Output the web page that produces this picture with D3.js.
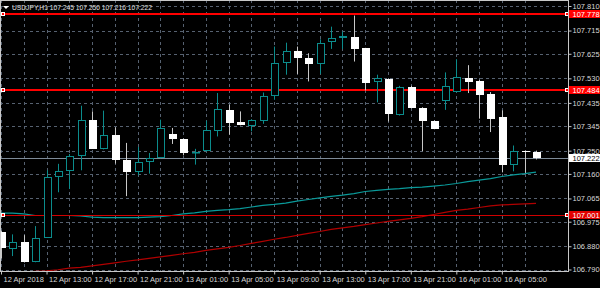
<!DOCTYPE html>
<html>
<head>
<meta charset="utf-8">
<script src="https://cdn.jsdelivr.net/npm/d3@7/dist/d3.min.js"></script>
<style>
body { margin: 0; background: #000; }
svg { display: block; }
text { font-family: "Liberation Sans", Arial, sans-serif; }
</style>
</head>
<body>
<div id="chart-area"></div>
<script>
// USDJPY H1 candles, 12 Apr 09:00 .. 16 Apr 08:00
var times = [
  "12 Apr 09:00","12 Apr 10:00","12 Apr 11:00","12 Apr 12:00","12 Apr 13:00","12 Apr 14:00","12 Apr 15:00","12 Apr 16:00",
  "12 Apr 17:00","12 Apr 18:00","12 Apr 19:00","12 Apr 20:00","12 Apr 21:00","12 Apr 22:00","12 Apr 23:00",
  "13 Apr 00:00","13 Apr 01:00","13 Apr 02:00","13 Apr 03:00","13 Apr 04:00","13 Apr 05:00","13 Apr 06:00","13 Apr 07:00",
  "13 Apr 08:00","13 Apr 09:00","13 Apr 10:00","13 Apr 11:00","13 Apr 12:00","13 Apr 13:00","13 Apr 14:00","13 Apr 15:00",
  "13 Apr 16:00","13 Apr 17:00","13 Apr 18:00","13 Apr 19:00","13 Apr 20:00","13 Apr 21:00","13 Apr 22:00","13 Apr 23:00",
  "16 Apr 00:00","16 Apr 01:00","16 Apr 02:00","16 Apr 03:00","16 Apr 04:00","16 Apr 05:00","16 Apr 06:00","16 Apr 07:00",
  "16 Apr 08:00"
];
var open = [106.934,106.869,106.895,106.820,106.913,107.149,107.172,107.228,107.367,107.257,107.309,107.212,107.168,107.205,107.222,
  107.316,107.296,107.240,107.247,107.326,107.408,107.362,107.347,107.366,107.460,107.589,107.634,107.610,107.585,107.670,107.685,
  107.691,107.647,107.515,107.528,107.387,107.495,107.417,107.366,107.441,107.477,107.533,107.518,107.469,107.380,107.196,107.250,107.245];
var high = [106.940,106.926,106.923,106.958,107.174,107.199,107.237,107.424,107.402,107.405,107.340,107.280,107.264,107.241,107.370,
  107.338,107.297,107.257,107.366,107.473,107.428,107.402,107.372,107.475,107.653,107.668,107.653,107.627,107.681,107.730,107.711,
  107.773,107.648,107.544,107.529,107.501,107.501,107.418,107.367,107.553,107.604,107.581,107.524,107.477,107.406,107.270,107.250,107.250];
var low = [106.833,106.842,106.817,106.818,106.912,107.089,107.102,107.174,107.257,107.255,107.200,107.074,107.155,107.161,107.221,
  107.276,107.232,107.196,107.246,107.305,107.312,107.348,107.325,107.354,107.447,107.544,107.547,107.518,107.547,107.644,107.644,
  107.595,107.483,107.437,107.363,107.386,107.414,107.248,107.333,107.408,107.476,107.473,107.374,107.322,107.166,107.170,107.164,107.216];
var close = [106.872,106.898,106.819,106.913,107.149,107.172,107.230,107.370,107.257,107.309,107.213,107.168,107.207,107.222,107.338,
  107.295,107.240,107.246,107.330,107.411,107.359,107.349,107.370,107.463,107.591,107.634,107.608,107.586,107.666,107.688,107.695,
  107.644,107.512,107.531,107.392,107.495,107.415,107.363,107.334,107.502,107.535,107.515,107.464,107.374,107.193,107.247,107.248,107.222];

// moving averages
var maFast = [107.008,107.008,107.005,106.999,106.999,106.999,106.999,106.997,106.993,106.991,106.991,106.991,106.991,106.993,106.995,
  106.999,107.005,107.009,107.015,107.019,107.022,107.026,107.032,107.038,107.042,107.047,107.055,107.061,107.067,107.073,107.078,
  107.084,107.092,107.096,107.100,107.103,107.107,107.109,107.113,107.117,107.123,107.130,107.136,107.142,107.150,107.156,107.161,107.167];
var maSlow = [106.770,106.775,106.779,106.783,106.785,106.789,106.795,106.798,106.804,106.810,106.816,106.822,106.827,106.833,106.839,
  106.845,106.851,106.856,106.864,106.870,106.876,106.883,106.891,106.899,106.907,106.914,106.922,106.930,106.937,106.945,106.951,
  106.957,106.964,106.970,106.976,106.982,106.988,106.995,107.003,107.011,107.019,107.024,107.030,107.036,107.040,107.042,107.044,107.046];

// horizontal line objects
var hLines = [107.778, 107.484, 107.001];
var hLineWidth = [2, 2, 1];
var bid = 107.222;

var priceTicks = [107.810,107.715,107.625,107.530,107.435,107.345,107.250,107.160,107.065,106.975,106.880,106.790];
var timeTicks = ["12 Apr 09:00","12 Apr 13:00","12 Apr 17:00","12 Apr 21:00","13 Apr 01:00","13 Apr 05:00",
  "13 Apr 09:00","13 Apr 13:00","13 Apr 17:00","13 Apr 21:00","16 Apr 01:00","16 Apr 05:00"];
var timeTickLabels = ["12 Apr 2018","12 Apr 13:00","12 Apr 17:00","12 Apr 21:00","13 Apr 01:00","13 Apr 05:00",
  "13 Apr 09:00","13 Apr 13:00","13 Apr 17:00","13 Apr 21:00","16 Apr 01:00","16 Apr 05:00"];

var W = 600, H = 288;
var plotRight = 568.5, plotBottom = 271.5;
var bull = "#0b8c8c", gridCol = "#566170", red = "#ff0000";

var svg = d3.select("#chart-area").append("svg")
    .attr("width", W).attr("height", H)
    .style("background", "#000");

var x = d3.scaleLinear().domain([0, times.length - 1]).range([1, 536]);
var y = d3.scaleLinear().domain([106.790, 107.810]).range([269.5, 6]);
var cx = i => Math.round(x(i)) + 0.5;

svg.append("clipPath").attr("id", "plot")
  .append("rect").attr("x", 0).attr("y", 0).attr("width", plotRight).attr("height", plotBottom);

var g = svg.append("g").attr("clip-path", "url(#plot)");

// grid
g.selectAll(".hgrid").data(priceTicks).enter().append("line")
    .attr("x1", 0).attr("x2", plotRight)
    .attr("y1", d => Math.round(y(d)) + 0.5).attr("y2", d => Math.round(y(d)) + 0.5)
    .attr("stroke", gridCol).attr("stroke-dasharray", "3,3");
g.selectAll(".vgrid").data(times.filter((t, i) => i % 2 == 0)).enter().append("line")
    .attr("x1", d => cx(times.indexOf(d))).attr("x2", d => cx(times.indexOf(d)))
    .attr("y1", 0).attr("y2", plotBottom)
    .attr("stroke", gridCol).attr("stroke-dasharray", "3,3");

// bid line
g.append("line").attr("x1", 0).attr("x2", plotRight)
    .attr("y1", Math.round(y(bid)) + 0.5).attr("y2", Math.round(y(bid)) + 0.5)
    .attr("stroke", "#7d8a98");

// moving averages
var line = d3.line().x((d, i) => x(i)).y(d => y(d));
g.append("path").datum(maSlow).attr("d", line).attr("fill", "none").attr("stroke", "#b00000").attr("stroke-width", 1.2);
g.append("path").datum(maFast).attr("d", line).attr("fill", "none").attr("stroke", "#0a9a9a").attr("stroke-width", 1.2);

// horizontal lines
hLines.forEach((v, k) => {
  var ly = Math.round(y(v)) + (hLineWidth[k] == 1 ? 0.5 : 0);
  g.append("line").attr("x1", 0).attr("x2", plotRight).attr("y1", ly).attr("y2", ly)
      .attr("stroke", k == 2 ? "#d00000" : red).attr("stroke-width", hLineWidth[k]);
  [1, 565].forEach(px => {
    g.append("rect").attr("x", px).attr("y", Math.round(y(v)) - 2).attr("width", 4).attr("height", 4).attr("fill", "#fff");
    g.append("rect").attr("x", px + 1).attr("y", Math.round(y(v)) - 1).attr("width", 2).attr("height", 2).attr("fill", red);
  });
});

// candles
var idx = d3.range(times.length);
var candles = g.selectAll(".candle").data(idx).enter().append("g");
candles.each(function(i) {
  var c = d3.select(this);
  var up = close[i] > open[i];
  var top = Math.round(y(Math.max(open[i], close[i])));
  var bot = Math.round(y(Math.min(open[i], close[i])));
  if (bot - top < 1) bot = top + 1;
  var xc = cx(i);
  if (up) {
    c.append("line").attr("x1", xc).attr("x2", xc).attr("y1", y(high[i])).attr("y2", top).attr("stroke", bull);
    c.append("line").attr("x1", xc).attr("x2", xc).attr("y1", bot).attr("y2", y(low[i])).attr("stroke", bull);
    c.append("rect").attr("x", xc - 3).attr("y", top + 0.5).attr("width", 7).attr("height", Math.max(bot - top - 1, 0.5))
        .attr("fill", "#000").attr("stroke", bull);
  } else {
    c.append("line").attr("x1", xc).attr("x2", xc).attr("y1", y(high[i])).attr("y2", y(low[i])).attr("stroke", "#c8c8c8");
    c.append("rect").attr("x", xc - 3.5).attr("y", top).attr("width", 8).attr("height", bot - top).attr("fill", "#fff");
  }
});

// frame
svg.append("rect").attr("x", 0.5).attr("y", 0.5).attr("width", plotRight - 0.5).attr("height", plotBottom - 0.5)
    .attr("fill", "none").attr("stroke", "#c8c8c8");

// price axis
var yAxis = d3.axisRight(y).tickValues(priceTicks).tickSize(3).tickFormat(d3.format(".3f"));
var ya = svg.append("g").attr("transform", `translate(${plotRight},0)`).call(yAxis);
ya.select(".domain").remove();
ya.selectAll("line").attr("stroke", "#c8c8c8");
ya.selectAll("text").attr("x", 4).attr("fill", "#d8d8d8").attr("font-size", "7.5px").attr("font-family", "Liberation Sans, Arial");

// time axis
var xAxis = d3.axisBottom(x).tickValues(timeTicks.map(t => times.indexOf(t))).tickSize(3)
    .tickFormat((d, k) => timeTickLabels[k]);
var xa = svg.append("g").attr("transform", `translate(0,${plotBottom})`).call(xAxis);
xa.select(".domain").remove();
xa.selectAll("line").attr("stroke", "#c8c8c8");
xa.selectAll("text").attr("text-anchor", "start").attr("x", 2).attr("y", 5)
    .attr("fill", "#d8d8d8").attr("font-size", "7.5px").attr("font-family", "Liberation Sans, Arial");

// line labels on the price axis
hLines.forEach((v, k) => {
  var ly = Math.round(y(v));
  svg.append("rect").attr("x", plotRight + 0.5).attr("y", ly - 4).attr("width", 32).attr("height", 8)
      .attr("fill", k == 2 ? "#e00000" : red);
  svg.append("text").attr("x", plotRight + 4).attr("y", ly + 3).attr("fill", "#fff")
      .attr("font-size", "7.5px").text(v.toFixed(3));
});

// bid label
var by = Math.round(y(bid));
svg.append("rect").attr("x", plotRight + 0.5).attr("y", by - 4).attr("width", 32).attr("height", 8)
    .attr("fill", "#fff");
svg.append("text").attr("x", plotRight + 4).attr("y", by + 3).attr("fill", "#000")
    .attr("font-size", "7.5px").text(bid.toFixed(3));

// header
var n = times.length - 1;
svg.append("path").attr("d", "M3,6 L9,6 L6,9 Z").attr("fill", "#fff");
svg.append("text").attr("x", 12).attr("y", 10).attr("fill", "#e0e0e0").attr("font-size", "7.5px")
    .attr("textLength", 140).attr("lengthAdjust", "spacingAndGlyphs")
    .text("USDJPY,H1  " + [open[n], high[n], low[n], close[n]].map(d => d.toFixed(3)).join(" "));
</script>
</body>
</html>
